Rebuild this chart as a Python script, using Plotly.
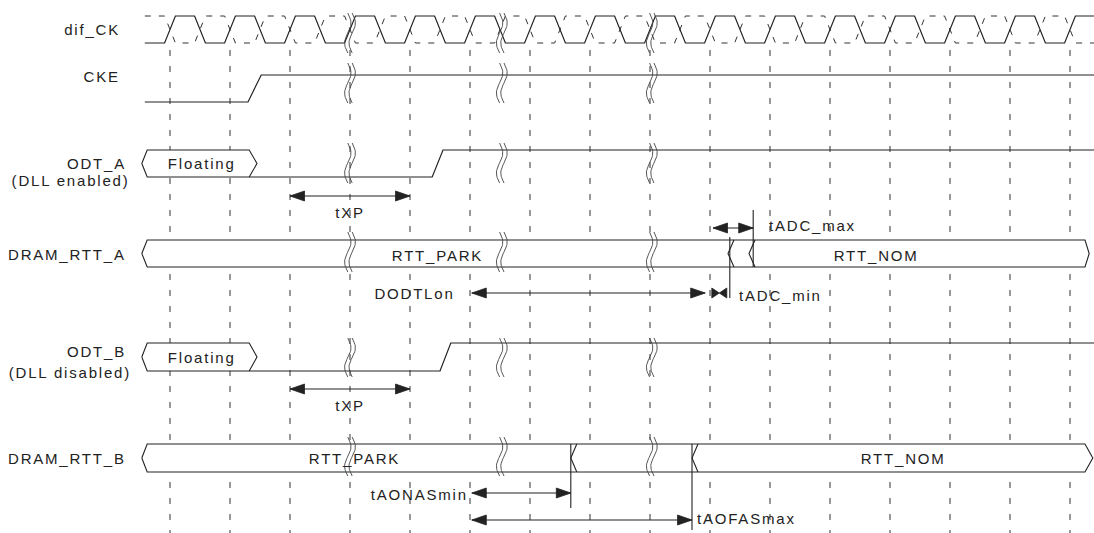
import numpy as np
import plotly.graph_objects as go

# ---------------- data (time in clock cycles; dashed reference line k sits at t = k) -------------
ref_edges = list(range(16))                 # clock rising-edge reference lines
clk_span = [-0.42, 15.40]                   # extent of the clock drawing
clk_half_edge = 0.09                        # half duration of a clock edge
cke_rise = [1.30, 1.52]
odt_a_rise = [4.37, 4.55]
odt_b_rise = [4.50, 4.68]
floating_end = [1.32, 1.45]                 # right corner, right tip of "Floating" window
bus_left = [-0.47, -0.38]                   # left tip, left corner
bus_right_a = [15.25, 15.32]                # right corner, right tip
bus_right_b = [15.25, 15.38]
rtt_a_changes = [9.30, 9.65]
rtt_b_changes = [6.68, 8.70]
break_pos = [3.00, 5.53, 8.03]
marker_t = [9.33, 9.72, 6.68, 8.70]
marker_y0 = [237, 210, 444, 444]
marker_y1 = [298, 267, 508, 530]

arrow_names = ["tXP_A", "tXP_B", "DODTLon", "tADC_max", "tAONASmin", "tAOFASmax"]
arrow_t0 = [2.00, 2.00, 5.03, 9.05, 5.03, 5.03]
arrow_t1 = [4.00, 4.00, 8.92, 9.72, 6.68, 8.70]
arrow_y = [196, 389, 293, 228, 493, 520]
bowtie_t = [9.03, 9.28]                     # tADC_min (inward heads)
bowtie_y = 293

signal_labels = ["dif_CK", "CKE", "ODT_A", "(DLL enabled)", "DRAM_RTT_A",
                 "ODT_B", "(DLL disabled)", "DRAM_RTT_B"]
signal_label_t = [-0.80, -0.80, -0.70, -0.63, -0.70, -0.70, -0.62, -0.70]
signal_label_y = [29, 76, 163, 180, 254, 351, 372, 458]

inner_texts = ["Floating", "Floating", "tXP", "tXP", "RTT_PARK", "RTT_PARK",
               "RTT_NOM", "RTT_NOM", "DODTLon", "tADC_max", "tADC_min",
               "tAONASmin", "tAOFASmax"]
inner_t = [0.52, 0.52, 3.00, 3.00, 4.45, 3.07, 11.77, 12.22, 4.78, 9.95, 9.45, 5.00, 8.75]
inner_y = [163, 357, 212, 405, 255, 458, 255, 458, 293, 225, 295, 494, 518]
inner_anchor = ["center"] * 8 + ["right", "left", "left", "right", "left"]

# ---------------- layout constants (pixels) -----------------------------------------------------
W, H = 1094, 533
PX_PER_CYCLE = 60.0
X_ORIGIN_PX = 170.0
rows = {  # (high y, low y)
    "clk": (16, 43), "cke": (75, 102), "odt_a": (150, 177),
    "rtt_a": (240, 267), "odt_b": (343, 371), "rtt_b": (444, 472),
}
break_rows = [(13, 53), (63, 103), (143, 183), (232, 272), (338, 377), (437, 476)]
INK = "#222222"
FONT = "Liberation Sans, Arial, Helvetica, sans-serif"


def px(n):
    """pixel length -> cycles"""
    return n / PX_PER_CYCLE


fig = go.Figure()


def add_line(xs, ys, width=1.1, dash=None, color=INK):
    fig.add_trace(go.Scatter(x=xs, y=ys, mode="lines", hoverinfo="skip",
                             line=dict(color=color, width=width, dash=dash)))


def add_fill(xs, ys, fill, line_color=INK, width=1.1):
    fig.add_trace(go.Scatter(x=xs, y=ys, mode="lines", fill="toself", fillcolor=fill,
                             hoverinfo="skip", line=dict(color=line_color, width=width)))


# dashed reference lines
vx, vy = [], []
for k in ref_edges:
    vx += [k, k, None]
    vy += [50, H, None]
add_line(vx, vy, width=1.0, dash="6px,10px", color="#333333")

# clock (true solid, complement dashed)
hi, lo = rows["clk"]
e = clk_half_edge
tx, ty = [clk_span[0]], [lo]
cx, cy = [clk_span[0]], [hi]
for k in ref_edges:
    for t, a, b in [(k, lo, hi), (k + 0.5, hi, lo)]:
        if t - e > clk_span[1]:
            continue
        if t + e <= clk_span[1]:
            tx += [t - e, t + e]; ty += [a, b]
            cx += [t - e, t + e]; cy += [b, a]
tx.append(clk_span[1]); ty.append(ty[-1])
cx.append(clk_span[1]); cy.append(cy[-1])
add_line(cx, cy, width=1.0, dash="6px,8px", color="#333333")
add_line(tx, ty, width=1.2)

# CKE
hi, lo = rows["cke"]
add_line([clk_span[0], cke_rise[0], cke_rise[1], clk_span[1]], [lo, lo, hi, hi], width=1.2)

# ODT_A / ODT_B with Floating window
for key, rise in [("odt_a", odt_a_rise), ("odt_b", odt_b_rise)]:
    hi, lo = rows[key]
    mid = (hi + lo) / 2
    add_fill([bus_left[0], bus_left[1], floating_end[0], floating_end[1], floating_end[0],
              bus_left[1], bus_left[0]],
             [mid, hi, hi, mid, lo, lo, mid], "white")
    add_line([floating_end[0], rise[0], rise[1], clk_span[1]], [lo, lo, hi, hi], width=1.2)

# RTT buses
for key, right, changes in [("rtt_a", bus_right_a, rtt_a_changes),
                            ("rtt_b", bus_right_b, rtt_b_changes)]:
    hi, lo = rows[key]
    mid = (hi + lo) / 2
    add_fill([bus_left[0], bus_left[1], right[0], right[1], right[0], bus_left[1], bus_left[0]],
             [mid, hi, hi, mid, lo, lo, mid], "white")
    lx, ly = [], []
    for c in changes:
        lx += [c + px(6), c, c + px(6), None]
        ly += [hi, mid, lo, None]
    add_line(lx, ly, width=1.1)

# breaks (double wavy strands)
s = np.linspace(0, 1, 30)
bx, by = [], []
for b in break_pos:
    for y0, y1 in break_rows:
        for off in (-2.2, 2.2):
            bx += list(b + px(off + 3.2 * np.sin(2 * np.pi * s))) + [None]
            by += list(y0 + s * (y1 - y0)) + [None]
add_line(bx, by, width=0.9, color="#444444")

# marker lines
mx, my = [], []
for t, a, b in zip(marker_t, marker_y0, marker_y1):
    mx += [t, t, None]
    my += [a, b, None]
add_line(mx, my, width=1.1)

# arrows
HEAD_L, HEAD_W = 14.5, 5.0
ax_, ay_, hx, hy = [], [], [], []
for t0, t1, y in zip(arrow_t0, arrow_t1, arrow_y):
    ax_ += [t0, t1, None]
    ay_ += [y, y, None]
    hx += [t0, t0 + px(HEAD_L), t0 + px(HEAD_L), t0, None]
    hy += [y, y - HEAD_W, y + HEAD_W, y, None]
    hx += [t1, t1 - px(HEAD_L), t1 - px(HEAD_L), t1, None]
    hy += [y, y - HEAD_W, y + HEAD_W, y, None]
bm = (bowtie_t[0] + bowtie_t[1]) / 2
hx += [bm, bowtie_t[0], bowtie_t[0], bm, None, bm, bowtie_t[1], bowtie_t[1], bm, None]
hy += [bowtie_y, bowtie_y - HEAD_W, bowtie_y + HEAD_W, bowtie_y, None,
       bowtie_y, bowtie_y - HEAD_W, bowtie_y + HEAD_W, bowtie_y, None]
add_line(ax_, ay_, width=1.1)
fig.add_trace(go.Scatter(x=hx, y=hy, mode="lines", fill="toself", fillcolor=INK,
                         hoverinfo="skip", line=dict(color=INK, width=0.8)))

# texts
for txt, t, y in zip(signal_labels, signal_label_t, signal_label_y):
    fig.add_annotation(x=t, y=y, text=txt, showarrow=False, xanchor="right", align="right",
                       yanchor="middle", font=dict(family=FONT, size=15, color=INK))
for txt, t, y, anc in zip(inner_texts, inner_t, inner_y, inner_anchor):
    fig.add_annotation(x=t, y=y, text=txt, showarrow=False, xanchor=anc, align=anc,
                       yanchor="middle", font=dict(family=FONT, size=15, color=INK))

fig.update_layout(
    width=W, height=H, margin=dict(l=0, r=0, t=0, b=0),
    paper_bgcolor="white", plot_bgcolor="white", showlegend=False,
    xaxis=dict(range=[-X_ORIGIN_PX / PX_PER_CYCLE, (W - X_ORIGIN_PX) / PX_PER_CYCLE],
               visible=False, fixedrange=True),
    yaxis=dict(range=[H, 0], visible=False, fixedrange=True),
)

post = ("var st=document.createElement('style');"
        "st.innerHTML='body{margin:0;overflow:hidden} .annotation-text{letter-spacing:1.8px}';"
        "document.head.appendChild(st);")
fig.write_html("out.html", config={"displayModeBar": False, "staticPlot": True}, post_script=post)
